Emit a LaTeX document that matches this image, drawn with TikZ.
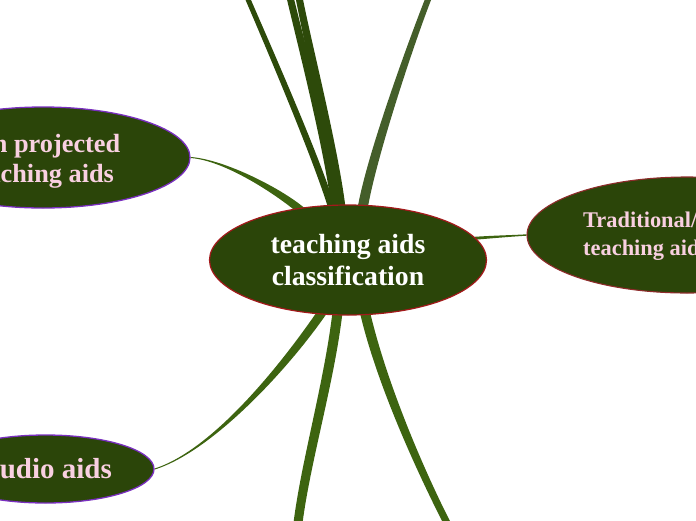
\documentclass[tikz,border=0pt]{standalone}
\usepackage{fontspec}
\setmainfont{Liberation Serif}
\usetikzlibrary{shapes.geometric,calc,backgrounds}
\definecolor{nodegreen}{HTML}{2B4509}
\definecolor{branchdark}{HTML}{2D4A0A}
\definecolor{branchgray}{HTML}{445E2A}
\definecolor{branchlight}{HTML}{3D6410}
\definecolor{rimred}{HTML}{A3191B}
\definecolor{rimpurple}{HTML}{7A2FC0}
\definecolor{rimbrown}{HTML}{8E2B2B}
\definecolor{pinktext}{HTML}{F9D0E1}
% tapered branch: colour, root, control 1, control 2, far end, root half width, far half width
\newcommand\taperbranch[7]{%
  \fill[#1] ($(#2)!#6!90:(#3)$) .. controls ($(#3)!#6!-90:(#2)$) and ($(#4)!#7!90:(#5)$) .. ($(#5)!#7!-90:(#4)$)
    -- ($(#5)!#7!90:(#4)$) .. controls ($(#4)!#7!-90:(#5)$) and ($(#3)!#6!90:(#2)$) .. ($(#2)!#6!-90:(#3)$) -- cycle;}
\begin{document}
\begin{tikzpicture}[x=1pt,y=-1pt,
  bubble/.style={ellipse, fill=nodegreen, inner sep=0pt},
  maintext/.style={font=\bfseries\fontsize{27.7}{32}\selectfont, text=white, align=center, inner sep=0pt},
  subtext/.style={text=pinktext, inner sep=0pt}]
\useasboundingbox (0,0) rectangle (696,520);
\clip (0,0) rectangle (696,520);
% nodes
\node[bubble, draw=rimred, line width=1.2pt, minimum width=277pt, minimum height=110pt] (c) at (348,260) {};
\node[maintext] (ctext) at (348,260.5) {teaching aids\\classification};
\node[bubble, draw=rimpurple, line width=1.3pt, minimum width=294pt, minimum height=101pt] (np) at (43,157.5) {};
\node[subtext, align=center, font=\bfseries\fontsize{26.3}{30}\selectfont] (nptext) at (40.5,161.5) {Non projected\\teaching aids};
\node[bubble, draw=rimbrown, line width=1.1pt, minimum width=320pt, minimum height=116pt] (tr) at (687,235) {};
\node[subtext, align=left, anchor=west, font=\bfseries\fontsize{22.4}{28.5}\selectfont] (trtext) at (583,236) {Traditional/\\teaching aids};
\node[bubble, draw=rimpurple, line width=1.3pt, minimum width=217pt, minimum height=68pt] (au) at (45.5,469) {};
\node[subtext, anchor=east, font=\bfseries\fontsize{29}{34}\selectfont] (autext) at (112,469) {Audio aids};
% root and far-end points
\coordinate (rA) at ($(c.center)+(-15,-48)$);
\coordinate (rB) at ($(c.center)+(-11,-48)$);
\coordinate (rC) at ($(c.center)+(-7,-48)$);
\coordinate (rD) at ($(c.center)+(14,-48)$);
\coordinate (rE) at ($(c.center)+(-45,-48)$);
\coordinate (rF) at ($(c.center)+(117,-21)$);
\coordinate (rG) at ($(c.center)+(-23,48)$);
\coordinate (rH) at ($(c.center)+(-10,48)$);
\coordinate (rI) at ($(c.center)+(16,48)$);
\coordinate (fA) at (247,-3);
\coordinate (fB) at (290,-3);
\coordinate (fC) at (299,-3);
\coordinate (fD) at (429,-3);
\coordinate (fH) at (298,523);
\coordinate (fI) at (447,523);
% branches behind the nodes
\begin{scope}[on background layer]
\clip (0,0) rectangle (696,520);
\taperbranch{branchdark}{rA}{318,160}{262,32}{fA}{3.5pt}{2.5pt}
\taperbranch{branchdark}{rB}{330,150}{300,40}{fB}{5pt}{3.5pt}
\taperbranch{branchdark}{rC}{334,150}{307,40}{fC}{5pt}{3.5pt}
\taperbranch{branchgray}{rD}{370,160}{412,40}{fD}{5pt}{3pt}
\taperbranch{branchlight}{rE}{280,192}{225,160}{np.east}{4pt}{0.5pt}
\taperbranch{branchlight}{rF}{490,237}{510,236}{tr.west}{1.5pt}{0.7pt}
\taperbranch{branchlight}{rG}{290,360}{215,450}{au.east}{4.5pt}{0.5pt}
\taperbranch{branchlight}{rH}{330,380}{306,460}{fH}{5pt}{4.5pt}
\taperbranch{branchlight}{rI}{380,380}{420,470}{fI}{5pt}{3.5pt}
\end{scope}
\end{tikzpicture}
\end{document}
